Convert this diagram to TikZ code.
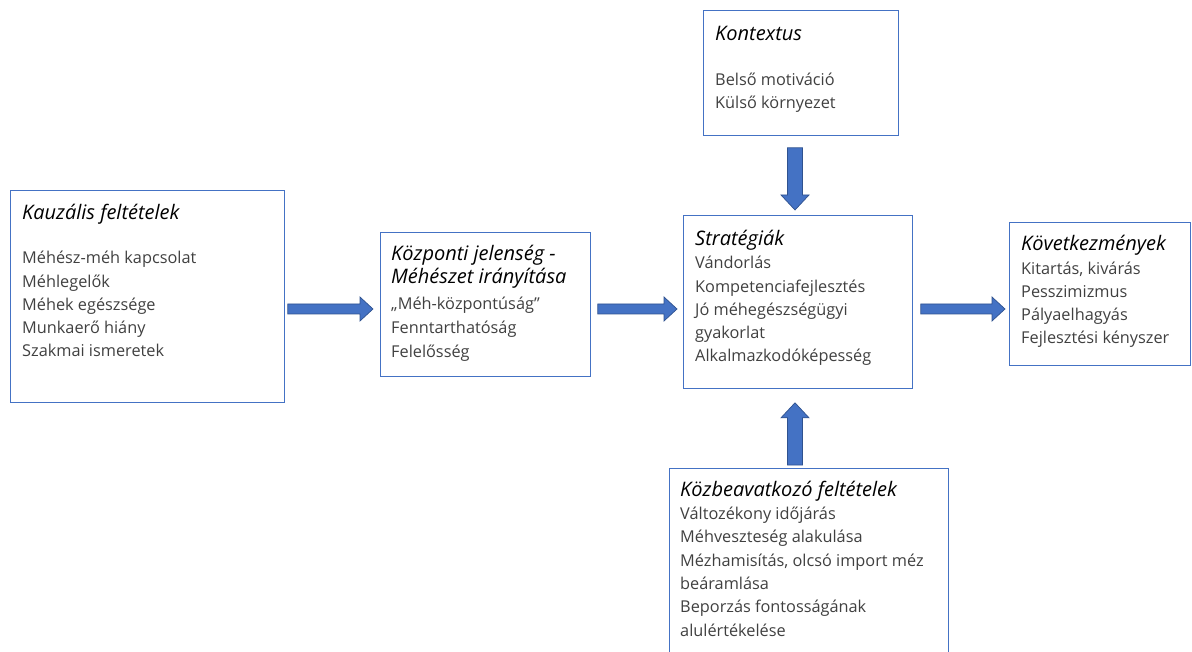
\documentclass[tikz,border=0pt]{standalone}
\usepackage{fontspec}
\setmainfont{Open Sans}
\usetikzlibrary{calc}

\definecolor{dobozkek}{HTML}{4472C4}
\definecolor{nyilkek}{HTML}{4472C4}
\definecolor{nyilkeret}{HTML}{2F528F}
\definecolor{betu}{HTML}{404040}

\newcommand{\torzs}{\fontsize{16.3}{23.3}\selectfont}
\newcommand{\cim}[1]{{\color{black}\itshape\fontsize{20}{23.3}\selectfont #1}}

\tikzset{
  doboz/.style={draw=dobozkek, line width=0.8pt, anchor=north west, inner sep=0pt},
  szoveg/.style={anchor=base west, align=left, inner sep=0pt, text=betu, font=\torzs},
  nyil/.style={draw=nyilkeret, fill=nyilkek, line width=0.7pt, line join=miter}
}

% tombnyil{from}{to}{half shaft}{half head}{head length}
\newcommand{\tombnyil}[5]{%
  \coordinate (nyilfej) at ($(#2)!#5!(#1)$);
  \filldraw[nyil] ($(#1)!#3!90:(#2)$) -- ($(nyilfej)!#3!90:(#2)$)
    -- ($(nyilfej)!#4!90:(#2)$) -- (#2) -- ($(nyilfej)!#4!-90:(#2)$)
    -- ($(nyilfej)!#3!-90:(#2)$) -- ($(#1)!#3!-90:(#2)$) -- cycle;
}

\begin{document}
\begin{tikzpicture}[x=1pt, y=-1pt]
\useasboundingbox (0,0) rectangle (1192,652);
\clip (0,0) rectangle (1192,652);

% dobozok
\node[doboz, minimum width=274pt, minimum height=212pt] (kauz) at (10,190) {};
\node[doboz, minimum width=210pt, minimum height=144pt] (kozp) at (380,232) {};
\node[doboz, minimum width=229pt, minimum height=173pt] (strat) at (683,215) {};
\node[doboz, minimum width=181pt, minimum height=143pt] (kovet) at (1009,222) {};
\node[doboz, minimum width=195pt, minimum height=125pt] (kontext) at (703,10) {};
\node[doboz, minimum width=279pt, minimum height=200pt] (kozbe) at (669,468) {};

% szovegek (base = utolso sor)
\node[szoveg] (kauz-t) at ([shift={(12,167)}]kauz.north west)
  {\cim{Kauzális feltételek}\\[21pt] Méhész-méh kapcsolat\\ Méhlegelők\\
   Méhek egészsége\\ Munkaerő hiány\\ Szakmai ismeretek};
\node[szoveg] (kozp-t) at ([shift={(11,126)}]kozp.north west)
  {\cim{Központi jelenség -}\\ \cim{Méhészet irányítása}\\[3pt] „Méh-központúság”\\[0.7pt]
   Fenntarthatóság\\[0.7pt] Felelősség};
\node[szoveg] (strat-t) at ([shift={(12,147)}]strat.north west)
  {\cim{Stratégiák}\\ Vándorlás\\ Kompetenciafejlesztés\\ Jó méhegészségügyi\\
   gyakorlat\\ Alkalmazkodóképesség};
\node[szoveg] (kovet-t) at ([shift={(12,122)}]kovet.north west)
  {\cim{Következmények}\\ Kitartás, kivárás\\ Pesszimizmus\\ Pályaelhagyás\\
   Fejlesztési kényszer};
\node[szoveg] (kontext-t) at ([shift={(12,99)}]kontext.north west)
  {\cim{Kontextus}\\[22pt] Belső motiváció\\ Külső környezet};
\node[szoveg] (kozbe-t) at ([shift={(11,168)}]kozbe.north west)
  {\cim{Közbeavatkozó feltételek}\\ Változékony időjárás\\ Méhveszteség alakulása\\
   Mézhamisítás, olcsó import méz\\ beáramlása\\ Beporzás fontosságának\\
   alulértékelése};

% nyilak
\coordinate (kauz-ki) at ([xshift=3pt]kauz.east |- 0,309);
\coordinate (kozp-be) at ([xshift=-7pt]kozp.west |- 0,309);
\coordinate (kozp-ki) at ([xshift=7pt]kozp.east |- 0,309);
\coordinate (strat-be) at ([xshift=-6pt]strat.west |- 0,309);
\coordinate (strat-ki) at ([xshift=8pt]strat.east |- 0,309);
\coordinate (kovet-be) at ([xshift=-4pt]kovet.west |- 0,309);
\coordinate (kontext-ki) at ([yshift=-12pt]kontext.south -| 795,0);
\coordinate (strat-fent) at ([yshift=5pt]strat.north -| 795,0);
\coordinate (kozbe-ki) at ([yshift=3pt]kozbe.north -| 795,0);
\coordinate (strat-lent) at ([yshift=-14pt]strat.south -| 795,0);

\tombnyil{kauz-ki}{kozp-be}{5pt}{12pt}{13pt}
\tombnyil{kozp-ki}{strat-be}{5pt}{12pt}{13pt}
\tombnyil{strat-ki}{kovet-be}{5pt}{12pt}{13pt}
\tombnyil{kontext-ki}{strat-fent}{7.5pt}{14pt}{15pt}
\tombnyil{kozbe-ki}{strat-lent}{7.5pt}{14pt}{15pt}
\end{tikzpicture}
\end{document}
